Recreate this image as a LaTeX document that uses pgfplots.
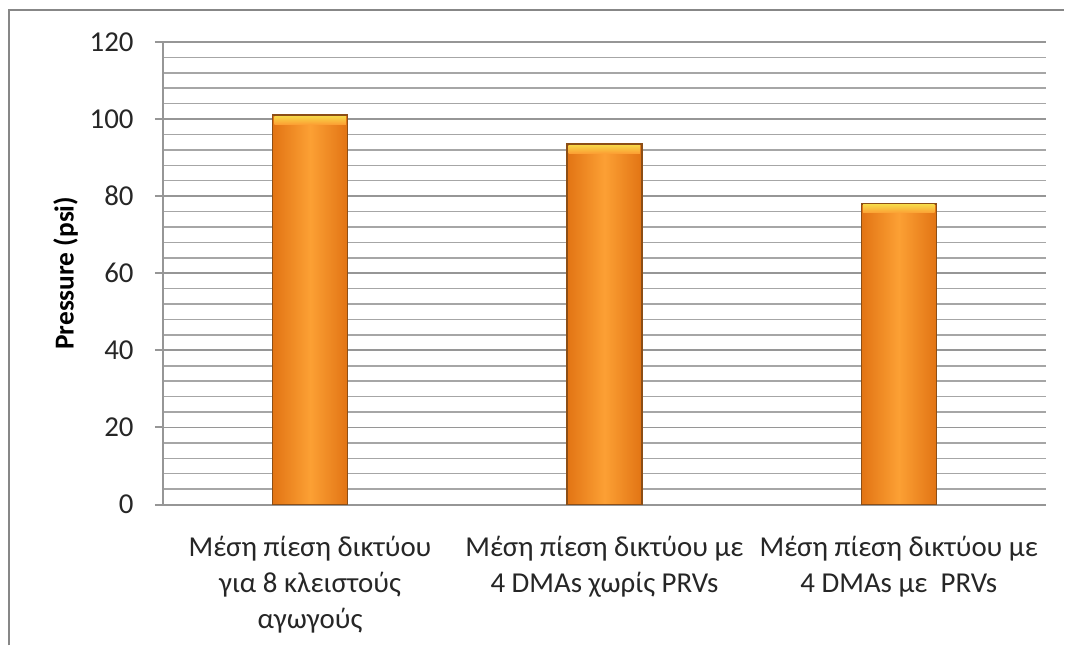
\documentclass[border=0pt]{standalone}
\usepackage{pgfplots}
\pgfplotsset{compat=1.18}
\usepackage{fontspec}
\setmainfont{Carlito}

\definecolor{gridgray}{RGB}{150,150,150}
\definecolor{framegray}{RGB}{135,135,135}
\definecolor{baredge}{RGB}{226,116,20}
\definecolor{barmid}{RGB}{252,160,52}
\definecolor{barline}{RGB}{140,78,22}
\definecolor{capyellow}{RGB}{247,214,72}

% yellow highlight at the top of each bar
\pgfdeclareplotmark{barcap}{%
  \shade[draw=none, top color=capyellow, bottom color=barmid]
    (-14.3bp,-3.6bp) rectangle (14.3bp,-0.4bp);}

\pgfplotsset{barstyle/.style={ybar, bar width=30bp, bar shift=0pt,
  left color=baredge, right color=baredge, middle color=barmid,
  draw=barline, line width=0.6bp}}

\begin{document}
\begin{tikzpicture}
\begin{axis}[
  at={(0,0)}, anchor=south west,
  scale only axis, width=353.6bp, height=185.2bp,
  ymin=0, ymax=120, ytick={0,20,...,120},
  minor y tick num=4,
  xmin=-0.5, xmax=2.5,
  xtick={0,1,2},
  xticklabels={
    {Μέση πίεση δικτύου\\για 8 κλειστούς\\αγωγούς},
    {Μέση πίεση δικτύου με\\4 DMAs χωρίς PRVs},
    {Μέση πίεση δικτύου με\\4 DMAs με\ \ PRVs}},
  axis x line*=bottom, axis y line*=left,
  axis line style={gridgray, line width=0.8bp, -},
  ymajorgrids, yminorgrids,
  major grid style={gridgray, line width=0.7bp},
  minor grid style={gridgray!85, line width=0.6bp},
  tick align=outside,
  major tick length=3.2bp, minor tick length=0pt,
  ytick style={gridgray, line width=0.8bp},
  xtick style={draw=none},
  /pgf/number format/assume math mode=true,
  yticklabel style={font=\fontsize{11.6}{13}\selectfont, text=black!85, xshift=-5bp},
  xticklabel style={font=\fontsize{11.6}{14.4}\selectfont, align=center,
    text=black!85, yshift=-6bp},
  every axis y label/.style={at={(axis description cs:-0.11,0.5)},
    rotate=90, anchor=center},
  ylabel={\fontsize{11}{12}\selectfont\bfseries Pressure (psi)},
  clip=false,
]
\addplot[barstyle] coordinates {(0,101)};
\addplot[barstyle] coordinates {(1,93.5)};
\addplot[barstyle] coordinates {(2,78)};
\addplot[only marks, mark=barcap, mark options={draw=none}]
  coordinates {(0,101) (1,93.5) (2,78)};
\end{axis}
\draw[framegray, line width=0.8bp] (-61.6bp,-56.4bp) -- (-61.6bp,198bp) -- (360.8bp,198bp);
\path (-65.2bp,-56.4bp) rectangle (360.8bp,202bp);
\end{tikzpicture}
\end{document}
